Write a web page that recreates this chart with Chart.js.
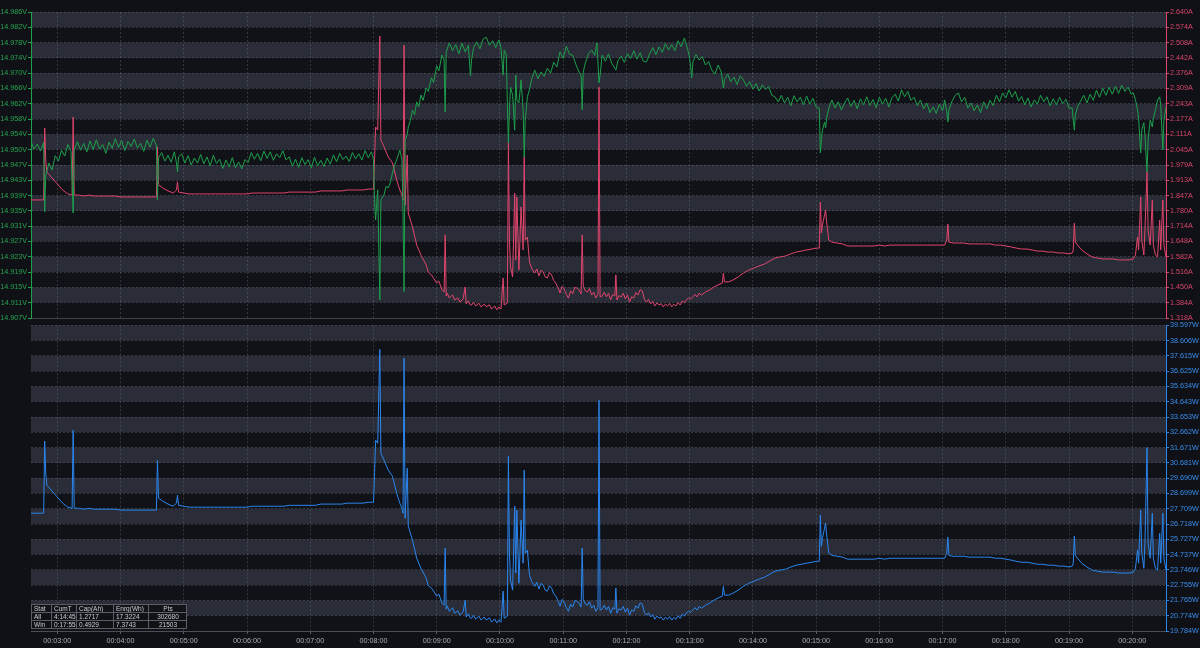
<!DOCTYPE html>
<html>
<head>
<meta charset="utf-8">
<script src="https://cdn.jsdelivr.net/npm/chart.js@4.4.1/dist/chart.umd.min.js"></script>
<style>
  html, body { margin: 0; padding: 0; background: #101116; }
  #wrap { position: relative; width: 1200px; height: 648px; overflow: hidden; }
  canvas { position: absolute; left: 0; }
  #topChart { top: 0; }
  #botChart { top: 320px; }
  #stats {
    position: absolute; left: 31px; top: 604px; width: 155px;
    border-collapse: collapse; table-layout: fixed;
    font: 6.5px 'Liberation Sans', Arial, sans-serif; color: #c9ccd3;
    background: rgba(16, 17, 22, 0.92);
  }
  #stats td { border: 1px solid #5b5e67; padding: 0 1px 0 2px; height: 7px; line-height: 7px; white-space: nowrap; overflow: hidden; }
  #stats td.c { text-align: center; }
</style>
</head>
<body>
<div id="wrap">
  <canvas id="topChart" width="1200" height="324"></canvas>
  <canvas id="botChart" width="1200" height="328"></canvas>
  <table id="stats"></table>
</div>
<script>
// axis labels
const minuteTicks = ['00:03:00', '00:04:00', '00:05:00', '00:06:00', '00:07:00', '00:08:00',
  '00:09:00', '00:10:00', '00:11:00', '00:12:00', '00:13:00', '00:14:00', '00:15:00',
  '00:16:00', '00:17:00', '00:18:00', '00:19:00', '00:20:00'];
const voltTicks = ['14.986V', '14.982V', '14.978V', '14.974V', '14.970V', '14.966V', '14.962V',
  '14.958V', '14.954V', '14.950V', '14.947V', '14.943V', '14.939V', '14.935V', '14.931V',
  '14.927V', '14.923V', '14.919V', '14.915V', '14.911V', '14.907V'];
const ampTicks = ['2.640A', '2.574A', '2.508A', '2.442A', '2.376A', '2.309A', '2.243A', '2.177A',
  '2.111A', '2.045A', '1.979A', '1.913A', '1.847A', '1.780A', '1.714A', '1.648A', '1.582A',
  '1.516A', '1.450A', '1.384A', '1.318A'];
const wattTicks = ['39.597W', '38.606W', '37.615W', '36.625W', '35.634W', '34.643W', '33.653W',
  '32.662W', '31.671W', '30.681W', '29.690W', '28.699W', '27.709W', '26.718W', '25.727W',
  '24.737W', '23.746W', '22.755W', '21.765W', '20.774W', '19.784W'];

// visible window (seconds)
const timeMin = 155;
const timeMax = 1232;

// voltage samples: time (s) and value (V)
const voltTime = [
  155, 158, 161, 164, 167, 168, 169, 172, 175, 178,
  181, 184, 187, 190, 193, 195, 196, 199, 202, 205,
  208, 211, 214, 217, 220, 223, 226, 229, 232, 235,
  238, 241, 244, 247, 250, 253, 256, 259, 262, 265,
  268, 271, 274, 275, 276, 279, 282, 285, 288, 291,
  293, 294, 295, 298, 301, 304, 307, 310, 313, 316,
  319, 322, 325, 328, 331, 334, 337, 340, 343, 346,
  349, 352, 355, 358, 361, 364, 367, 370, 373, 376,
  379, 382, 385, 388, 391, 394, 397, 400, 403, 406,
  409, 412, 415, 418, 421, 424, 427, 430, 433, 436,
  439, 442, 445, 448, 451, 454, 457, 460, 463, 466,
  469, 472, 475, 478, 480, 481, 482, 484, 486, 487,
  490, 492, 494, 496, 498, 500, 502, 505, 507, 508,
  509, 510, 512, 513, 515, 517, 519, 521, 523, 525,
  527, 530, 532, 535, 537, 540, 542, 545, 547, 548,
  549, 552, 555, 558, 561, 564, 567, 570, 572, 573,
  575, 578, 581, 584, 587, 590, 593, 596, 599, 601,
  603, 604, 606, 607, 608, 609, 610, 612, 614, 615,
  616, 618, 620, 622, 623, 624, 626, 628, 630, 633,
  636, 639, 642, 645, 648, 651, 654, 657, 660, 663,
  666, 669, 672, 675, 677, 678, 679, 681, 684, 687,
  690, 692, 694, 695, 697, 700, 703, 706, 709, 710,
  712, 715, 718, 721, 724, 727, 730, 733, 736, 739,
  742, 745, 748, 751, 754, 757, 760, 763, 766, 769,
  772, 775, 778, 780, 782, 783, 786, 789, 792, 795,
  798, 801, 804, 807, 810, 812, 813, 816, 819, 822,
  825, 828, 831, 834, 837, 840, 843, 846, 849, 852,
  855, 858, 861, 864, 867, 870, 873, 876, 879, 882,
  885, 888, 891, 894, 897, 900, 903, 904, 905, 906,
  908, 909, 910, 912, 915, 918, 921, 924, 927, 930,
  933, 936, 939, 942, 945, 948, 951, 954, 957, 960,
  963, 966, 969, 972, 975, 978, 981, 984, 987, 990,
  993, 996, 999, 1002, 1005, 1008, 1011, 1014, 1017, 1020,
  1022, 1024, 1025, 1026, 1029, 1032, 1035, 1038, 1041, 1044,
  1047, 1050, 1053, 1056, 1059, 1062, 1065, 1068, 1071, 1074,
  1077, 1080, 1083, 1086, 1089, 1092, 1095, 1098, 1101, 1104,
  1107, 1110, 1113, 1116, 1119, 1122, 1125, 1128, 1131, 1134,
  1137, 1140, 1143, 1144, 1145, 1146, 1148, 1151, 1154, 1157,
  1160, 1163, 1166, 1169, 1172, 1175, 1178, 1181, 1184, 1187,
  1190, 1193, 1196, 1199, 1201, 1203, 1205, 1206, 1208, 1209,
  1211, 1212, 1214, 1215, 1217, 1219, 1220, 1222, 1224, 1226,
  1227, 1229, 1230, 1232
];
const volts = [
  14.9526, 14.9506, 14.9519, 14.9501, 14.9523, 14.9344, 14.9439, 14.9470, 14.9452, 14.9489,
  14.9475, 14.9503, 14.9488, 14.9518, 14.9500, 14.9341, 14.9504, 14.9525, 14.9503, 14.9521,
  14.9499, 14.9527, 14.9505, 14.9530, 14.9506, 14.9518, 14.9495, 14.9524, 14.9508, 14.9533,
  14.9510, 14.9528, 14.9502, 14.9526, 14.9513, 14.9532, 14.9509, 14.9521, 14.9500, 14.9529,
  14.9511, 14.9534, 14.9515, 14.9375, 14.9483, 14.9497, 14.9475, 14.9490, 14.9472, 14.9499,
  14.9471, 14.9447, 14.9486, 14.9494, 14.9470, 14.9489, 14.9465, 14.9483, 14.9470, 14.9492,
  14.9468, 14.9486, 14.9463, 14.9490, 14.9469, 14.9480, 14.9456, 14.9478, 14.9460, 14.9484,
  14.9458, 14.9473, 14.9455, 14.9479, 14.9471, 14.9497, 14.9480, 14.9495, 14.9476, 14.9501,
  14.9482, 14.9499, 14.9477, 14.9494, 14.9484, 14.9502, 14.9478, 14.9486, 14.9462, 14.9480,
  14.9459, 14.9484, 14.9466, 14.9479, 14.9458, 14.9485, 14.9463, 14.9477, 14.9461, 14.9483,
  14.9467, 14.9491, 14.9473, 14.9495, 14.9479, 14.9488, 14.9474, 14.9497, 14.9481, 14.9494,
  14.9478, 14.9502, 14.9484, 14.9499, 14.9478, 14.9375, 14.9323, 14.9401, 14.9117, 14.9375,
  14.9388, 14.9410, 14.9406, 14.9420, 14.9444, 14.9465, 14.9478, 14.9504, 14.9478, 14.9341,
  14.9138, 14.9530, 14.9543, 14.9563, 14.9580, 14.9607, 14.9595, 14.9628, 14.9615, 14.9646,
  14.9632, 14.9664, 14.9655, 14.9690, 14.9678, 14.9721, 14.9708, 14.9749, 14.9736, 14.9602,
  14.9757, 14.9780, 14.9760, 14.9776, 14.9752, 14.9779, 14.9757, 14.9774, 14.9695, 14.9736,
  14.9768, 14.9783, 14.9765, 14.9790, 14.9795, 14.9774, 14.9786, 14.9768, 14.9788, 14.9767,
  14.9697, 14.9762, 14.9750, 14.9625, 14.9522, 14.9607, 14.9666, 14.9646, 14.9555, 14.9697,
  14.9633, 14.9625, 14.9685, 14.9607, 14.9486, 14.9581, 14.9641, 14.9659, 14.9685, 14.9710,
  14.9688, 14.9705, 14.9694, 14.9715, 14.9702, 14.9730, 14.9718, 14.9757, 14.9740, 14.9772,
  14.9750, 14.9749, 14.9725, 14.9705, 14.9697, 14.9607, 14.9705, 14.9728, 14.9752, 14.9762,
  14.9748, 14.9780, 14.9677, 14.9697, 14.9749, 14.9733, 14.9752, 14.9728, 14.9715, 14.9710,
  14.9735, 14.9746, 14.9730, 14.9752, 14.9740, 14.9760, 14.9738, 14.9755, 14.9733, 14.9731,
  14.9752, 14.9768, 14.9750, 14.9770, 14.9756, 14.9778, 14.9762, 14.9776, 14.9760, 14.9786,
  14.9770, 14.9793, 14.9765, 14.9742, 14.9690, 14.9731, 14.9750, 14.9736, 14.9745, 14.9723,
  14.9732, 14.9710, 14.9700, 14.9723, 14.9705, 14.9664, 14.9685, 14.9700, 14.9680, 14.9692,
  14.9673, 14.9695, 14.9685, 14.9668, 14.9680, 14.9661, 14.9675, 14.9656, 14.9672, 14.9660,
  14.9668, 14.9645, 14.9641, 14.9628, 14.9645, 14.9625, 14.9640, 14.9618, 14.9644, 14.9628,
  14.9640, 14.9620, 14.9643, 14.9622, 14.9637, 14.9615, 14.9612, 14.9496, 14.9530, 14.9555,
  14.9576, 14.9561, 14.9586, 14.9612, 14.9633, 14.9612, 14.9628, 14.9607, 14.9625, 14.9638,
  14.9616, 14.9632, 14.9610, 14.9636, 14.9620, 14.9641, 14.9619, 14.9634, 14.9613, 14.9640,
  14.9622, 14.9637, 14.9615, 14.9639, 14.9648, 14.9630, 14.9659, 14.9641, 14.9655, 14.9632,
  14.9640, 14.9618, 14.9633, 14.9610, 14.9625, 14.9600, 14.9615, 14.9598, 14.9622, 14.9605,
  14.9633, 14.9602, 14.9576, 14.9607, 14.9630, 14.9645, 14.9651, 14.9628, 14.9640, 14.9612,
  14.9625, 14.9605, 14.9620, 14.9600, 14.9628, 14.9610, 14.9632, 14.9618, 14.9645, 14.9628,
  14.9651, 14.9638, 14.9659, 14.9640, 14.9655, 14.9630, 14.9642, 14.9620, 14.9638, 14.9615,
  14.9633, 14.9622, 14.9645, 14.9628, 14.9641, 14.9618, 14.9636, 14.9620, 14.9640, 14.9623,
  14.9635, 14.9612, 14.9612, 14.9581, 14.9555, 14.9594, 14.9615, 14.9630, 14.9645, 14.9625,
  14.9648, 14.9632, 14.9658, 14.9640, 14.9663, 14.9645, 14.9666, 14.9648, 14.9668, 14.9650,
  14.9671, 14.9655, 14.9666, 14.9648, 14.9651, 14.9633, 14.9607, 14.9586, 14.9496, 14.9555,
  14.9574, 14.9543, 14.9447, 14.9530, 14.9581, 14.9563, 14.9586, 14.9607, 14.9633, 14.9641,
  14.9620, 14.9504, 14.9581, 14.9615
];

// current / power samples: time (s), current (A), power (W)
const ampTime = [
  155, 160, 165, 167, 168, 169, 170, 175, 180, 185,
  190, 194, 195, 196, 200, 205, 210, 215, 220, 225,
  230, 235, 240, 245, 250, 255, 260, 265, 270, 274,
  275, 276, 280, 285, 290, 293, 294, 295, 300, 305,
  310, 315, 320, 325, 330, 335, 340, 345, 350, 355,
  360, 365, 370, 375, 380, 385, 390, 395, 400, 405,
  410, 415, 420, 425, 430, 435, 440, 445, 450, 455,
  460, 465, 470, 475, 479, 480, 481, 482, 484, 486,
  487, 490, 494, 498, 502, 505, 507, 508, 509, 510,
  512, 513, 517, 521, 525, 530, 532, 535, 537, 540,
  542, 545, 547, 548, 549, 550, 552, 555, 557, 560,
  562, 565, 567, 568, 570, 572, 573, 575, 577, 580,
  582, 585, 587, 590, 592, 595, 597, 599, 601, 603,
  604, 607, 608, 609, 610, 612, 614, 615, 616, 618,
  620, 622, 623, 624, 626, 628, 630, 633, 635, 637,
  639, 641, 643, 645, 647, 649, 651, 653, 655, 657,
  659, 661, 663, 665, 667, 669, 671, 673, 675, 677,
  678, 679, 681, 683, 685, 687, 689, 691, 693, 694,
  695, 697, 699, 701, 703, 705, 707, 709, 710, 711,
  713, 715, 717, 719, 721, 723, 725, 727, 729, 731,
  733, 735, 737, 739, 741, 743, 745, 747, 749, 751,
  753, 755, 757, 759, 761, 763, 765, 767, 769, 771,
  773, 775, 777, 779, 781, 782, 783, 785, 787, 789,
  791, 795, 799, 803, 807, 811, 812, 813, 817, 821,
  826, 831, 836, 841, 846, 851, 856, 861, 866, 871,
  876, 881, 886, 891, 896, 900, 903, 904, 905, 906,
  908, 909, 910, 912, 915, 920, 925, 930, 935, 940,
  945, 950, 955, 960, 965, 970, 975, 980, 985, 990,
  995, 1000, 1005, 1010, 1015, 1020, 1022, 1024, 1025, 1026,
  1030, 1035, 1040, 1045, 1050, 1055, 1060, 1065, 1070, 1075,
  1080, 1085, 1090, 1095, 1100, 1105, 1110, 1115, 1120, 1125,
  1130, 1135, 1140, 1143, 1144, 1145, 1146, 1148, 1152, 1157,
  1162, 1167, 1172, 1177, 1182, 1187, 1192, 1197, 1201, 1203,
  1205, 1206, 1208, 1209, 1211, 1212, 1214, 1215, 1217, 1219,
  1220, 1222, 1224, 1226, 1227, 1229, 1230, 1232
];
const amps = [
  1.828, 1.828, 1.828, 1.828, 2.139, 2.001, 1.949, 1.923, 1.897, 1.871,
  1.854, 1.849, 2.186, 1.849, 1.849, 1.845, 1.849, 1.845, 1.845, 1.845,
  1.845, 1.845, 1.841, 1.841, 1.841, 1.841, 1.841, 1.841, 1.841, 1.841,
  2.057, 1.893, 1.880, 1.867, 1.858, 1.871, 1.906, 1.862, 1.858, 1.854,
  1.854, 1.854, 1.854, 1.854, 1.854, 1.854, 1.854, 1.854, 1.854, 1.854,
  1.854, 1.858, 1.858, 1.858, 1.858, 1.858, 1.858, 1.858, 1.862, 1.862,
  1.862, 1.862, 1.862, 1.862, 1.867, 1.867, 1.867, 1.867, 1.867, 1.871,
  1.871, 1.871, 1.871, 1.875, 1.875, 1.875, 2.001, 2.143, 2.130, 2.536,
  2.087, 2.057, 2.014, 1.988, 1.914, 1.871, 1.849, 1.828, 2.497, 1.806,
  2.022, 1.772, 1.711, 1.633, 1.590, 1.547, 1.515, 1.504, 1.490, 1.469,
  1.478, 1.439, 1.430, 1.677, 1.413, 1.425, 1.404, 1.418, 1.396, 1.405,
  1.387, 1.400, 1.452, 1.379, 1.392, 1.374, 1.374, 1.386, 1.370, 1.382,
  1.366, 1.378, 1.366, 1.375, 1.357, 1.370, 1.353, 1.366, 1.357, 1.491,
  1.374, 1.383, 2.074, 1.655, 1.538, 1.495, 1.858, 1.569, 1.841, 1.525,
  1.798, 1.612, 2.014, 1.655, 1.668, 1.560, 1.534, 1.512, 1.530, 1.500,
  1.525, 1.517, 1.495, 1.491, 1.515, 1.504, 1.480, 1.469, 1.450, 1.426,
  1.455, 1.443, 1.420, 1.404, 1.435, 1.422, 1.450, 1.448, 1.439, 1.422,
  1.677, 1.456, 1.435, 1.430, 1.445, 1.417, 1.430, 1.404, 1.420, 2.316,
  1.409, 1.413, 1.430, 1.409, 1.425, 1.396, 1.420, 1.413, 1.504, 1.396,
  1.415, 1.409, 1.425, 1.400, 1.418, 1.387, 1.410, 1.404, 1.428, 1.417,
  1.440, 1.435, 1.400, 1.387, 1.398, 1.379, 1.390, 1.370, 1.383, 1.374,
  1.380, 1.366, 1.378, 1.370, 1.381, 1.366, 1.377, 1.370, 1.385, 1.374,
  1.392, 1.383, 1.398, 1.404, 1.400, 1.404, 1.409, 1.420, 1.409, 1.425,
  1.417, 1.430, 1.439, 1.452, 1.461, 1.469, 1.512, 1.474, 1.474, 1.482,
  1.495, 1.512, 1.525, 1.534, 1.543, 1.551, 1.564, 1.577, 1.582, 1.586,
  1.595, 1.603, 1.607, 1.612, 1.616, 1.620, 1.620, 1.819, 1.685, 1.720,
  1.763, 1.785, 1.733, 1.655, 1.646, 1.642, 1.638, 1.629, 1.629, 1.629,
  1.629, 1.629, 1.629, 1.633, 1.629, 1.633, 1.633, 1.633, 1.633, 1.633,
  1.633, 1.633, 1.633, 1.633, 1.633, 1.633, 1.633, 1.655, 1.724, 1.646,
  1.642, 1.642, 1.642, 1.638, 1.638, 1.638, 1.638, 1.638, 1.633, 1.633,
  1.629, 1.625, 1.620, 1.616, 1.616, 1.612, 1.607, 1.607, 1.603, 1.603,
  1.599, 1.599, 1.595, 1.599, 1.612, 1.728, 1.646, 1.633, 1.612, 1.595,
  1.582, 1.577, 1.573, 1.573, 1.573, 1.569, 1.569, 1.569, 1.573, 1.590,
  1.668, 1.612, 1.841, 1.655, 1.590, 1.698, 1.949, 1.698, 1.633, 1.828,
  1.633, 1.590, 1.582, 1.741, 1.612, 1.828, 1.633, 1.582
];
const watts = [
  27.42, 27.42, 27.42, 27.42, 32.09, 30.02, 29.24, 28.85, 28.46, 28.07,
  27.81, 27.74, 32.79, 27.74, 27.74, 27.68, 27.74, 27.68, 27.68, 27.68,
  27.68, 27.68, 27.62, 27.62, 27.62, 27.62, 27.62, 27.62, 27.62, 27.62,
  30.86, 28.40, 28.20, 28.01, 27.87, 28.07, 28.59, 27.93, 27.87, 27.81,
  27.81, 27.81, 27.81, 27.81, 27.81, 27.81, 27.81, 27.81, 27.81, 27.81,
  27.81, 27.87, 27.87, 27.87, 27.87, 27.87, 27.87, 27.87, 27.93, 27.93,
  27.93, 27.93, 27.93, 27.93, 28.01, 28.01, 28.01, 28.01, 28.01, 28.07,
  28.07, 28.07, 28.07, 28.13, 28.13, 28.13, 30.02, 32.15, 31.95, 38.04,
  31.31, 30.86, 30.21, 29.82, 28.71, 28.07, 27.74, 27.42, 37.46, 27.09,
  30.33, 26.58, 25.67, 24.50, 23.85, 23.21, 22.72, 22.56, 22.37, 22.04,
  22.18, 21.59, 21.45, 25.16, 21.20, 21.40, 21.06, 21.29, 20.94, 21.09,
  20.81, 21.02, 21.78, 20.69, 20.90, 20.61, 20.61, 20.81, 20.55, 20.75,
  20.49, 20.69, 20.49, 20.64, 20.36, 20.57, 20.30, 20.51, 20.36, 22.37,
  20.61, 20.75, 31.11, 24.83, 23.07, 22.43, 27.87, 23.54, 27.62, 22.88,
  26.97, 24.18, 30.21, 24.83, 25.02, 23.40, 23.01, 22.68, 22.95, 22.50,
  22.87, 22.76, 22.43, 22.37, 22.72, 22.56, 22.20, 22.04, 21.75, 21.39,
  21.83, 21.65, 21.30, 21.06, 21.53, 21.33, 21.75, 21.72, 21.59, 21.33,
  25.16, 21.84, 21.53, 21.45, 21.68, 21.26, 21.45, 21.06, 21.30, 34.74,
  21.14, 21.20, 21.45, 21.14, 21.38, 20.94, 21.30, 21.20, 22.56, 20.94,
  21.23, 21.14, 21.38, 21.00, 21.27, 20.81, 21.15, 21.06, 21.42, 21.26,
  21.60, 21.53, 21.00, 20.81, 20.97, 20.69, 20.85, 20.55, 20.75, 20.61,
  20.70, 20.49, 20.67, 20.55, 20.72, 20.49, 20.66, 20.55, 20.78, 20.61,
  20.88, 20.75, 20.97, 21.06, 21.00, 21.06, 21.14, 21.30, 21.14, 21.38,
  21.26, 21.45, 21.59, 21.78, 21.92, 22.04, 22.68, 22.11, 22.11, 22.23,
  22.43, 22.68, 22.88, 23.01, 23.15, 23.27, 23.46, 23.66, 23.73, 23.79,
  23.93, 24.05, 24.11, 24.18, 24.24, 24.30, 24.30, 27.29, 25.28, 25.80,
  26.45, 26.78, 26.00, 24.83, 24.69, 24.63, 24.57, 24.44, 24.44, 24.44,
  24.44, 24.44, 24.44, 24.50, 24.44, 24.50, 24.50, 24.50, 24.50, 24.50,
  24.50, 24.50, 24.50, 24.50, 24.50, 24.50, 24.50, 24.83, 25.87, 24.69,
  24.63, 24.63, 24.63, 24.57, 24.57, 24.57, 24.57, 24.57, 24.50, 24.50,
  24.44, 24.38, 24.30, 24.24, 24.24, 24.18, 24.11, 24.11, 24.05, 24.05,
  23.99, 23.99, 23.93, 23.99, 24.18, 25.93, 24.69, 24.50, 24.18, 23.93,
  23.73, 23.66, 23.60, 23.60, 23.60, 23.54, 23.54, 23.54, 23.60, 23.85,
  25.02, 24.18, 27.62, 24.83, 23.85, 25.47, 31.67, 25.47, 24.50, 27.42,
  24.50, 23.85, 23.73, 26.12, 24.18, 27.42, 24.50, 23.73
];

// stats box
const statHeader = ['Stat', 'CumT', 'Cap(Ah)', 'Enrg(Wh)', 'Pts'];
const statAll = ['All', '4:14:45', '1.2717', '17.3224', '302680'];
const statWin = ['Win', '0:17:55', '0.4929', '7.3743', '21503'];
const statWidths = [20, 25, 37, 35, 38];

const GREEN = '#1d9f4c', GREEN_TXT = '#27a450';
const RED = '#e0456d', RED_TXT = '#d9466c';
const BLUE = '#2b86ef', BLUE_TXT = '#3a8ff0';
const GRID = 'rgba(120, 126, 142, 0.33)';
const FONT = { family: "'Liberation Sans', Arial, sans-serif", size: 7.2 };

function toSec(s) {
  const p = s.split(':').map(Number);
  return p[0] * 3600 + p[1] * 60 + p[2];
}

function points(times, values) {
  return times.map((t, i) => ({ x: t, y: values[i] }));
}

// ticks evenly spaced between the first and last label
function evenTicks(labels) {
  return function (scale) {
    const n = labels.length - 1;
    const step = (scale.max - scale.min) / n;
    scale.ticks = labels.map((_, i) => ({ value: scale.min + i * step }));
  };
}
function evenLabel(labels) {
  return (v, i) => labels[labels.length - 1 - i];
}

// alternating horizontal bands behind the grid
const bandPlugin = {
  id: 'bands',
  beforeDraw(chart, args, opts) {
    const s = chart.scales[opts.axis];
    const a = chart.chartArea;
    const ctx = chart.ctx;
    const step = (s.max - s.min) / opts.count;
    ctx.save();
    for (let k = 0; k < opts.count; k++) {
      const y1 = s.getPixelForValue(s.max - k * step);
      const y2 = s.getPixelForValue(s.max - (k + 1) * step);
      ctx.fillStyle = k % 2 === 0 ? '#2a2d37' : '#111217';
      ctx.fillRect(a.left, y1, a.right - a.left, y2 - y1);
    }
    ctx.restore();
  }
};

const xTicks = scale => { scale.ticks = minuteTicks.map(s => ({ value: toSec(s) })); };

const baseLine = { pointRadius: 0, borderWidth: 1, tension: 0, fill: false };

new Chart(document.getElementById('topChart'), {
  type: 'line',
  data: {
    datasets: [
      { ...baseLine, label: 'Voltage', data: points(voltTime, volts), yAxisID: 'yV', borderColor: GREEN },
      { ...baseLine, label: 'Current', data: points(ampTime, amps), yAxisID: 'yA', borderColor: RED }
    ]
  },
  plugins: [bandPlugin],
  options: {
    responsive: false,
    animation: false,
    events: [],
    layout: { padding: { top: 12, bottom: 2, left: 0, right: 0 } },
    plugins: { legend: { display: false }, tooltip: { enabled: false }, bands: { axis: 'yV', count: 20 } },
    scales: {
      x: {
        type: 'linear', min: timeMin, max: timeMax,
        afterBuildTicks: xTicks,
        afterFit: s => { s.height = 4; },
        ticks: { display: false },
        grid: { color: GRID, drawTicks: false },
        border: { color: '#3d4048', dash: [2, 2] }
      },
      yV: {
        position: 'left',
        min: parseFloat(voltTicks[voltTicks.length - 1]), max: parseFloat(voltTicks[0]),
        afterBuildTicks: evenTicks(voltTicks),
        afterFit: s => { s.width = 31; },
        ticks: { color: GREEN_TXT, font: FONT, padding: 1, autoSkip: false, callback: evenLabel(voltTicks) },
        grid: { color: GRID, tickColor: GREEN, tickLength: 3 },
        border: { color: GREEN, dash: [2, 2] }
      },
      yA: {
        position: 'right',
        min: parseFloat(ampTicks[ampTicks.length - 1]), max: parseFloat(ampTicks[0]),
        afterBuildTicks: evenTicks(ampTicks),
        afterFit: s => { s.width = 34; },
        ticks: { color: RED_TXT, font: FONT, padding: 1, autoSkip: false, callback: evenLabel(ampTicks) },
        grid: { drawOnChartArea: false, tickColor: RED, tickLength: 3 },
        border: { color: RED }
      }
    }
  }
});

new Chart(document.getElementById('botChart'), {
  type: 'line',
  data: {
    datasets: [
      { ...baseLine, label: 'Power', data: points(ampTime, watts), yAxisID: 'yW', borderColor: BLUE }
    ]
  },
  plugins: [bandPlugin],
  options: {
    responsive: false,
    animation: false,
    events: [],
    layout: { padding: { top: 5, bottom: 0, left: 31, right: 0 } },
    plugins: { legend: { display: false }, tooltip: { enabled: false }, bands: { axis: 'yW', count: 20 } },
    scales: {
      x: {
        type: 'linear', min: timeMin, max: timeMax,
        afterBuildTicks: xTicks,
        afterFit: s => { s.height = 17; },
        ticks: {
          color: '#a9adb6', font: FONT, padding: 3, autoSkip: false, maxRotation: 0,
          callback: (v, i) => minuteTicks[i]
        },
        grid: { color: GRID, tickColor: '#5a5d66', tickLength: 3 },
        border: { color: '#4b4e57', dash: [2, 2] }
      },
      yW: {
        position: 'right',
        min: parseFloat(wattTicks[wattTicks.length - 1]), max: parseFloat(wattTicks[0]),
        afterBuildTicks: evenTicks(wattTicks),
        afterFit: s => { s.width = 34; },
        ticks: { color: BLUE_TXT, font: FONT, padding: 1, autoSkip: false, callback: evenLabel(wattTicks) },
        grid: { color: GRID, tickColor: BLUE, tickLength: 3 },
        border: { color: BLUE, dash: [2, 2] }
      }
    }
  }
});

// stats table
const table = document.getElementById('stats');
const colgroup = document.createElement('colgroup');
statWidths.forEach(w => {
  const col = document.createElement('col');
  col.style.width = w + 'px';
  colgroup.appendChild(col);
});
table.appendChild(colgroup);
[statHeader, statAll, statWin].forEach(row => {
  const tr = document.createElement('tr');
  row.forEach((cell, i) => {
    const td = document.createElement('td');
    td.textContent = cell;
    if (i === row.length - 1) td.className = 'c';
    tr.appendChild(td);
  });
  table.appendChild(tr);
});
</script>
</body>
</html>
